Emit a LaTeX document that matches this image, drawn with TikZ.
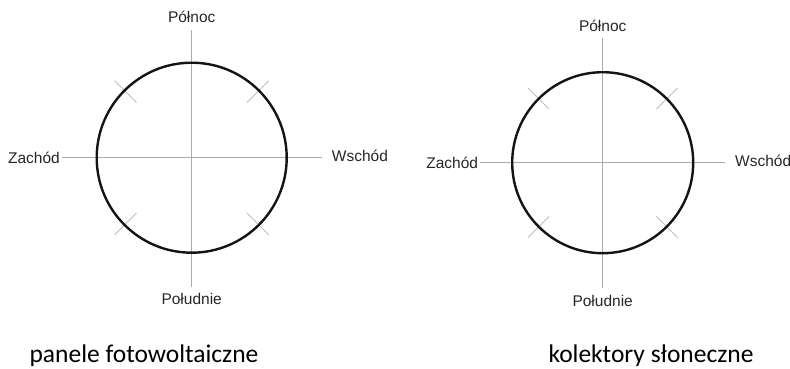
\documentclass[tikz,border=0pt]{standalone}
\usepackage{fontspec}
\setmainfont{Liberation Sans}
\newfontfamily\capfont{Carlito}
\usepackage{tikz}
\usetikzlibrary{positioning}

\tikzset{
  axis/.style={draw=black!33, line width=0.9pt},
  rim/.style={draw=black!92, line width=2.4pt},
  tickmark/.style={draw=black!25, line width=0.9pt},
  compass/.style={inner sep=0pt, font=\fontsize{15.5}{18}\selectfont, text=black!85},
  caption/.style={inner sep=0pt, font=\capfont\fontsize{25.5}{30}\selectfont, text=black}
}

\begin{document}
\begin{tikzpicture}[x=1pt,y=-1pt]
  \useasboundingbox (0,0) rectangle (790,369);

  % panele fotowoltaiczne
  \coordinate (c1) at (191.7,157.7);
  \coordinate (n1) at (191.7,30); \coordinate (s1) at (191.7,287);
  \coordinate (w1) at (61.7,157.7); \coordinate (e1) at (321.7,157.7);
  \node [compass, above=7pt of n1] (pn1) {Północ};
  \node [compass, below=6pt of s1] (pd1) {Południe};
  \node [compass, left=1.7pt of w1] (za1) {Zachód};
  \node [compass, right=10pt of e1, yshift=2pt] (ws1) {Wschód};
  \draw [axis] (n1) -- (s1); \draw [axis] (w1) -- (e1);
  \foreach \a in {45,135,225,315}
    \draw [tickmark] ([shift={(\a:78)}]c1) -- ([shift={(\a:109)}]c1);
  \draw [rim] (c1) circle [radius=95];
  \node [caption, anchor=base] (cap1) at (144,362.3) {panele fotowoltaiczne};

  % kolektory sloneczne
  \coordinate (c2) at (602.7,162.7);
  \coordinate (n2) at (602.7,37.7); \coordinate (s2) at (602.7,288.3);
  \coordinate (w2) at (480,162.7); \coordinate (e2) at (725,162.7);
  \node [compass, above=5.7pt of n2] (pn2) {Północ};
  \node [compass, below=6.7pt of s2] (pd2) {Południe};
  \node [compass, left=1.7pt of w2] (za2) {Zachód};
  \node [compass, right=10pt of e2, yshift=2pt] (ws2) {Wschód};
  \draw [axis] (n2) -- (s2); \draw [axis] (w2) -- (e2);
  \foreach \a in {45,135,225,315}
    \draw [tickmark] ([shift={(\a:76)}]c2) -- ([shift={(\a:106)}]c2);
  \draw [rim] (c2) circle [radius=90.5];
  \node [caption, anchor=base] (cap2) at (651,362.3) {kolektory słoneczne};
\end{tikzpicture}
\end{document}
